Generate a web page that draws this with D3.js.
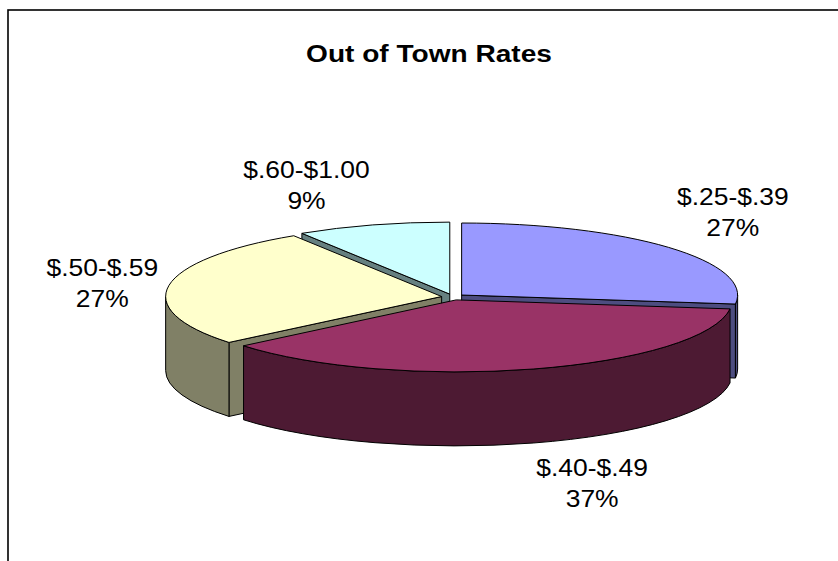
<!DOCTYPE html>
<html>
<head>
<meta charset="utf-8">
<script src="https://cdn.jsdelivr.net/npm/d3@7"></script>
<style>
  body { margin: 0; background: #fff; }
  text { font-family: "Liberation Sans", Arial, sans-serif; fill: #000; }
</style>
</head>
<body>
<div id="chart"></div>
<script>
var rangeLabels = ['$.25-$.39', '$.40-$.49', '$.50-$.59', '$.60-$1.00']
var shares      = [27, 37, 27, 9]
var topColors   = ['#9999ff', '#993366', '#ffffcc', '#ccffff']
var chartTitle  = 'Out of Town Rates'

function buildPie3d() {
  var width = 838, height = 561
  var cx = 453, cy = 297, rx = 276, ry = 72, depth = 74, explode = 11.5
  var stretch = 1.15

  var svg = d3.select('#chart')
    .append('svg')
      .attr('width', width)
      .attr('height', height)

  // frame (only top and left edges fall inside the window)
  svg.append('rect')
    .attr('x', 8).attr('y', 10)
    .attr('width', 900).attr('height', 700)
    .attr('fill', 'none')
    .attr('stroke', '#000')
    .attr('stroke-width', 1.6)

  svg.append('text')
    .attr('transform', 'translate(429,62) scale(1.17,1)')
    .attr('text-anchor', 'middle')
    .style('font-size', '24px')
    .style('font-weight', 'bold')
    .text(chartTitle)

  var pie = d3.pie().sort(null).startAngle(0).endAngle(2 * Math.PI)
  var arcs = pie(shares).map(function(d, i) {
    var mid = (d.startAngle + d.endAngle) / 2
    d.i = i
    d.mid = mid
    d.dx = explode * Math.sin(mid)
    d.dy = -explode * Math.cos(mid) * ry / rx
    return d
  })

  function pt(d, a, down) {
    return [cx + d.dx + rx * Math.sin(a), cy + d.dy - ry * Math.cos(a) + (down ? depth : 0)]
  }
  function shade(c) {
    var k = d3.rgb(c)
    return d3.rgb(k.r * 0.5, k.g * 0.5, k.b * 0.5).formatHex()
  }

  function topPath(d) {
    var s = pt(d, d.startAngle), e = pt(d, d.endAngle)
    var large = (d.endAngle - d.startAngle) > Math.PI ? 1 : 0
    return 'M' + (cx + d.dx) + ',' + (cy + d.dy) + 'L' + s + 'A' + rx + ',' + ry + ' 0 ' + large + ' 1 ' + e + 'Z'
  }
  function wallPath(d) {
    var a0 = Math.max(d.startAngle, Math.PI / 2), a1 = Math.min(d.endAngle, 3 * Math.PI / 2)
    if (a1 <= a0) return null
    var s = pt(d, a0), e = pt(d, a1), sb = pt(d, a0, true), eb = pt(d, a1, true)
    return 'M' + s + 'A' + rx + ',' + ry + ' 0 0 1 ' + e + 'L' + eb + 'A' + rx + ',' + ry + ' 0 0 0 ' + sb + 'Z'
  }
  function radialPath(d, a) {
    var v = [cx + d.dx, cy + d.dy], r = pt(d, a)
    return 'M' + v + 'L' + r + 'L' + [r[0], r[1] + depth] + 'L' + [v[0], v[1] + depth] + 'Z'
  }

  // paint back slices first
  var order = arcs.slice().sort(function(a, b) { return Math.cos(b.mid) - Math.cos(a.mid) })

  order.forEach(function(d) {
    var g = svg.append('g')
    var side = shade(topColors[d.i])
    // cut faces that turn towards the viewer
    var faces = [[d.startAngle, d.startAngle - Math.PI / 2], [d.endAngle, d.endAngle + Math.PI / 2]]
    faces.forEach(function(f) {
      if (Math.cos(f[1]) < -1e-6) {
        g.append('path').attr('d', radialPath(d, f[0]))
          .attr('fill', side).attr('stroke', '#000').attr('stroke-width', 1)
      }
    })
    var w = wallPath(d)
    if (w) g.append('path').attr('d', w).attr('fill', side).attr('stroke', '#000').attr('stroke-width', 1)
    g.append('path').attr('d', topPath(d))
      .attr('fill', topColors[d.i]).attr('stroke', '#000').attr('stroke-width', 1)
  })

  // data labels: name and percent, boxed next to the rim
  var capH = 17, lineGap = 31, gapX = 11, gapY = 16.5
  arcs.forEach(function(d) {
    var s = Math.sin(d.mid), c = Math.cos(d.mid)
    var rim = pt(d, d.mid, c < 0)
    var px = rim[0] + gapX * s, py = rim[1] - gapY * c
    var lbl = svg.append('g')
    var t1 = lbl.append('text').attr('text-anchor', 'middle').style('font-size', '23px').text(rangeLabels[d.i])
    var t2 = lbl.append('text').attr('text-anchor', 'middle').style('font-size', '23px').attr('y', lineGap)
      .text(Math.round(d.value / d3.sum(shares) * 100) + '%')
    var w = Math.max(t1.node().getComputedTextLength(), t2.node().getComputedTextLength()) * stretch
    var h = capH + lineGap
    var left = s > 0 ? px : px - w
    var top = c > 0.3 ? py - h : (c < -0.3 ? py : py - h / 2)
    lbl.attr('transform', 'translate(' + (left + w / 2) + ',' + (top + capH) + ') scale(' + stretch + ',1)')
  })
}

buildPie3d()
</script>
</body>
</html>
